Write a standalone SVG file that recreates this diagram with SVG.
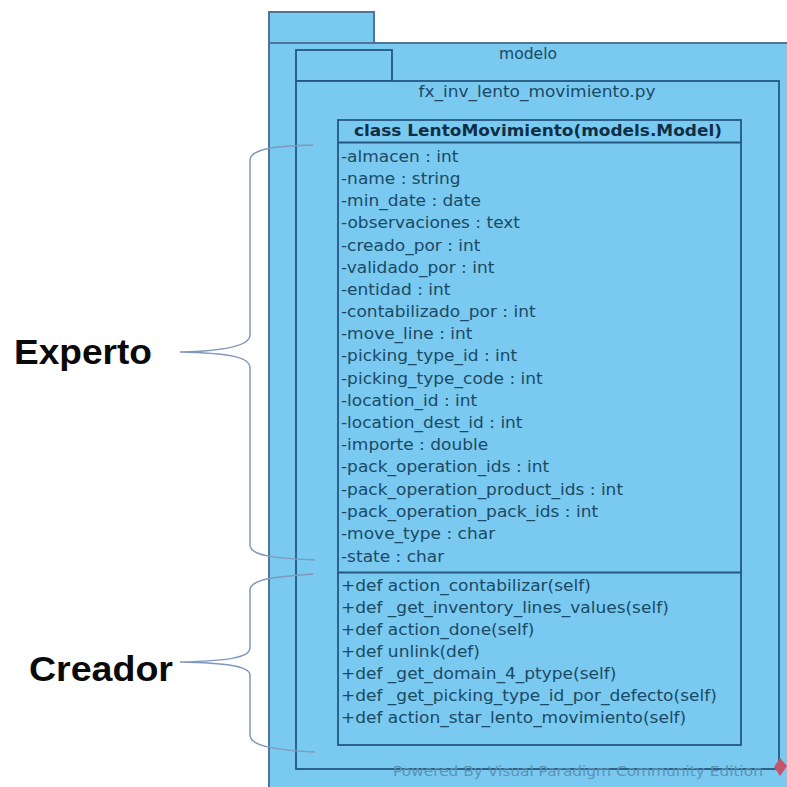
<svg xmlns="http://www.w3.org/2000/svg" width="787" height="787" viewBox="0 0 787 787">
<style>
.pkg{fill:#79c9f1;stroke:#24587f;stroke-width:1.8}
.outer{stroke:#4f7596;stroke-width:2}
.t{font-family:"DejaVu Sans",sans-serif;font-size:15.7px;fill:#1c4a63}
.c{font-family:"DejaVu Sans",sans-serif;font-size:15px;fill:#1c4a63;text-anchor:middle}
.b{font-family:"Liberation Sans",Arial,sans-serif;font-size:35px;font-weight:700;fill:#0a0a0a}
.br{fill:none;stroke:#7f99bd;stroke-width:1.5}
</style>
<rect width="787" height="787" fill="#fff"/>
<g id="package-modelo">
<rect class="pkg outer" x="269" y="12" width="105" height="31"/>
<rect class="pkg outer" x="269" y="43" width="530" height="760"/>
<text class="c" x="528" y="59" textLength="58" lengthAdjust="spacingAndGlyphs">modelo</text>
</g>
<g id="package-fx">
<rect class="pkg" x="296" y="50" width="96" height="31"/>
<rect class="pkg" x="296" y="81" width="483" height="688"/>
<text class="c" x="537" y="97" textLength="237" lengthAdjust="spacingAndGlyphs">fx_inv_lento_movimiento.py</text>
</g>
<g id="class-lento">
<rect class="pkg" x="338" y="120" width="403" height="625"/>
<line class="pkg" x1="338" y1="142.500" x2="741" y2="142.500" stroke-width="2"/>
<line class="pkg" x1="338" y1="572.500" x2="741" y2="572.500" stroke-width="2"/>
<text class="c" x="538" y="136" font-weight="700" style="font-size:15px;fill:#0f2f45" textLength="368" lengthAdjust="spacingAndGlyphs">class LentoMovimiento(models.Model)</text>
<g class="t" transform="translate(341 1) scale(1.083 1) translate(-341 0)">
<text x="341" y="161">-almacen : int</text>
<text x="341" y="183">-name : string</text>
<text x="341" y="205">-min_date : date</text>
<text x="341" y="227">-observaciones : text</text>
<text x="341" y="250">-creado_por : int</text>
<text x="341" y="272">-validado_por : int</text>
<text x="341" y="294">-entidad : int</text>
<text x="341" y="316">-contabilizado_por : int</text>
<text x="341" y="338">-move_line : int</text>
<text x="341" y="360">-picking_type_id : int</text>
<text x="341" y="383">-picking_type_code : int</text>
<text x="341" y="405">-location_id : int</text>
<text x="341" y="427">-location_dest_id : int</text>
<text x="341" y="449">-importe : double</text>
<text x="341" y="471">-pack_operation_ids : int</text>
<text x="341" y="494">-pack_operation_product_ids : int</text>
<text x="341" y="516">-pack_operation_pack_ids : int</text>
<text x="341" y="538">-move_type : char</text>
<text x="341" y="561">-state : char</text>
<text x="341" y="590">+def action_contabilizar(self)</text>
<text x="341" y="612">+def _get_inventory_lines_values(self)</text>
<text x="341" y="634">+def action_done(self)</text>
<text x="341" y="656">+def unlink(def)</text>
<text x="341" y="678">+def _get_domain_4_ptype(self)</text>
<text x="341" y="700">+def _get_picking_type_id_por_defecto(self)</text>
<text x="341" y="722">+def action_star_lento_movimiento(self)</text>
</g>
</g>
<g id="watermark">
<text x="393" y="776" font-family="DejaVu Sans,sans-serif" font-size="14px" fill="#5f93b3" textLength="370" lengthAdjust="spacingAndGlyphs">Powered By Visual Paradigm Community Edition</text>
<path d="M780 758l7 8-7 10-6-9z" fill="#c4546a"/>
</g>
<g id="connectors">
<path class="br" d="M313 145C290 146 251 146 250 160V335C250 346 225 351 180 352C225 353 250 356 250 368V545C250 556 275 558 315 560"/>
<path class="br" d="M313 574C290 576 250 577 250 590V648C250 658 225 661 180 662C225 663 250 666 250 675V735C250 746 275 750 315 752"/>
</g>
<g id="label-experto"><text class="b" x="14" y="364" textLength="138" lengthAdjust="spacingAndGlyphs">Experto</text></g>
<g id="label-creador"><text class="b" x="29" y="681" textLength="144" lengthAdjust="spacingAndGlyphs">Creador</text></g>
</svg>
